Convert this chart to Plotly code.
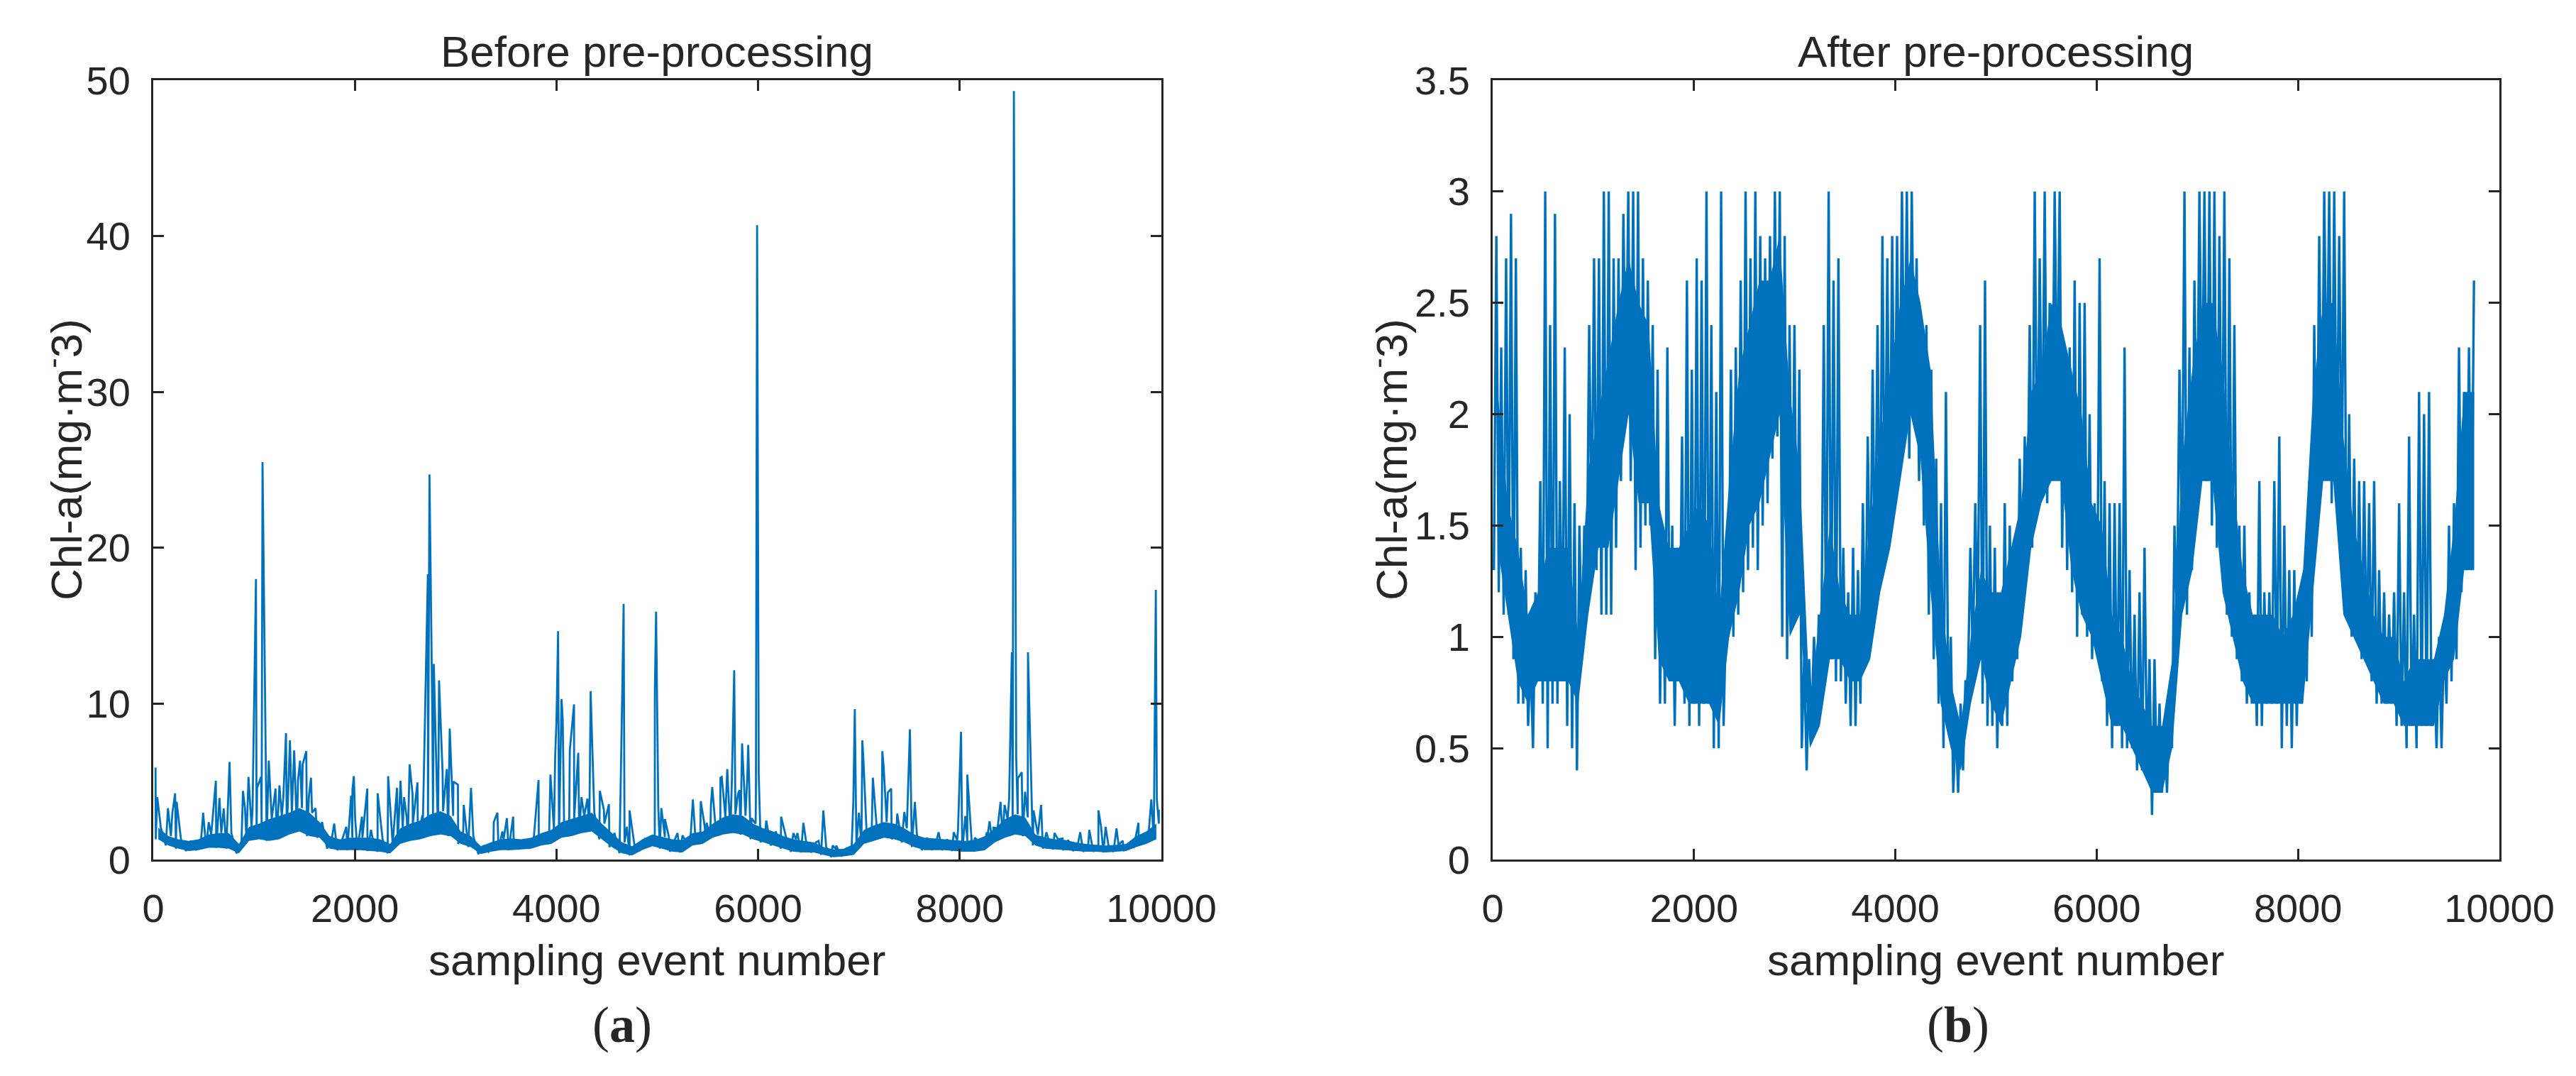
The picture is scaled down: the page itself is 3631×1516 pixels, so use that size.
import numpy as np
import plotly.graph_objects as go

W, H = 3631, 1516
BLUE = "#0072BD"
AX = "#262626"
FONT = "Liberation Sans, Arial, sans-serif"

# ---------------- axis ticks ----------------
x_ticks = [0, 2000, 4000, 6000, 8000, 10000]
x_ticklabels = ["0", "2000", "4000", "6000", "8000", "10000"]
before_yticks = [0, 10, 20, 30, 40, 50]
after_yticks = [0, 0.5, 1, 1.5, 2, 2.5, 3, 3.5]
after_yticklabels = ["0", "0.5", "1", "1.5", "2", "2.5", "3", "3.5"]

# ---------------- (a) before pre-processing ----------------
# baseline band read per 100-sample bin: low / high edge of the dense trace
before_bin = 100
before_lo = [1.3, 0.9, 0.7, 0.55, 0.6, 0.75, 0.75, 0.7, 0.4, 1.2,
             1.3, 1.2, 1.3, 1.6, 1.8, 1.5, 1.4, 0.7, 0.6, 0.6,
             0.6, 0.55, 0.5, 0.4, 1.0, 1.2, 1.3, 1.5, 1.6, 1.5,
             1.0, 0.8, 0.35, 0.5, 0.6, 0.6, 0.65, 0.7, 0.9, 1.0,
             1.4, 1.5, 1.7, 1.8, 1.3, 0.8, 0.4, 0.26, 0.6, 0.85,
             0.7, 0.5, 0.45, 0.9, 1.0, 1.4, 1.6, 1.7, 1.6, 1.3,
             1.1, 0.9, 0.7, 0.5, 0.45, 0.45, 0.3, 0.15, 0.2, 0.3,
             1.0, 1.2, 1.4, 1.3, 1.1, 0.8, 0.6, 0.6, 0.6, 0.55,
             0.5, 0.5, 0.6, 1.1, 1.4, 1.6, 1.5, 0.9, 0.7, 0.65,
             0.6, 0.55, 0.5, 0.5, 0.45, 0.5, 0.55, 0.8, 1.0, 1.3]
before_hi = [2.05, 1.5, 1.3, 1.2, 1.3, 1.6, 1.7, 1.7, 1.0, 2.1,
             2.3, 2.6, 2.8, 3.0, 3.3, 3.0, 2.4, 1.5, 1.3, 1.4,
             1.4, 1.4, 1.3, 1.0, 2.0, 2.3, 2.5, 2.9, 3.1, 2.8,
             1.8, 1.5, 0.85, 1.1, 1.3, 1.35, 1.3, 1.4, 1.7, 1.9,
             2.4, 2.6, 2.8, 3.0, 2.3, 1.7, 1.1, 0.85, 1.3, 1.6,
             1.45, 1.3, 1.25, 1.7, 1.8, 2.3, 2.7, 2.9, 2.8, 2.3,
             2.0, 1.8, 1.5, 1.3, 1.2, 1.1, 0.8, 0.65, 0.7, 1.0,
             1.9, 2.2, 2.4, 2.3, 2.0, 1.6, 1.4, 1.35, 1.3, 1.25,
             1.2, 1.25, 1.5, 2.0, 2.6, 2.9, 2.7, 1.6, 1.4, 1.3,
             1.25, 1.1, 1.0, 0.95, 0.9, 0.95, 1.0, 1.5, 1.8, 2.3]
# isolated spikes (sample number, value)
before_spike_x = [23, 40, 146, 190, 217, 232, 495, 550, 621, 657, 699, 757, 764,
                  890, 910, 945, 985, 1019, 1030, 1070, 1084, 1146, 1213, 1252,
                  1290, 1317, 1356, 1398, 1436, 1456, 1482, 1518, 1545, 1565,
                  1610, 1795, 1915, 1963, 1976, 1990, 2003, 2070, 2123, 2160,
                  2226, 2330, 2418, 2453, 2488, 2515, 2543, 2572, 2621, 2670,
                  2724, 2740, 2768, 2783, 2835, 2870, 2912, 2941, 2977, 3022,
                  3080, 3152, 3378, 3414, 3463, 3508, 3570, 3822, 3940, 3987,
                  4000, 4016, 4050, 4062, 4132, 4174, 4216, 4248, 4307, 4339,
                  4350, 4430, 4470, 4520, 4653, 4666, 4698, 4725, 4976, 4988,
                  5010, 5040, 5075, 5115, 5200, 5250, 5353, 5431, 5464, 5490,
                  5532, 5545, 5626, 5639, 5665, 5694, 5740, 5763, 5800, 5815,
                  5841, 5893, 5902, 5935, 5978, 5990, 6006, 6080, 6228, 6350,
                  6390, 6449, 6600, 6647, 6740, 6775, 6945, 6959, 7000, 7034,
                  7044, 7138, 7232, 7245, 7287, 7320, 7380, 7450, 7506, 7555,
                  7790, 7940, 7983, 8013, 8055, 8075, 8150, 8270, 8296, 8335,
                  8405, 8445, 8490, 8517, 8537, 8560, 8576, 8615, 8648, 8677,
                  8732, 8807, 8860, 8940, 9020, 9195, 9285, 9376, 9402, 9447,
                  9555, 9617, 9773, 9900, 9945, 9955, 9975]
before_spike_y = [5.9, 4.0, 3.3, 3.0, 4.25, 3.7, 3.0, 2.4, 5.05, 3.95, 3.27, 6.26, 4.5,
                  4.4, 3.3, 5.3, 3.2, 18.0, 4.6, 5.3, 25.5, 6.35, 4.55, 4.75,
                  3.95, 8.1, 7.65, 7.0, 5.1, 6.35, 6.1, 6.95, 4.1, 5.25,
                  3.3, 2.3, 2.1, 4.1, 4.5, 5.35, 2.6, 2.75, 4.55, 1.9,
                  4.25, 5.35, 4.6, 5.05, 4.0, 2.65, 6.1, 4.2, 4.95, 2.85,
                  18.3, 24.7, 9.5, 12.55, 11.5, 5.6, 5.8, 8.4, 5.0, 4.8,
                  3.5, 4.6, 2.4, 3.0, 1.8, 2.65, 2.75, 5.1, 5.45, 6.6,
                  8.95, 14.65, 10.3, 8.95, 7.0, 9.95, 6.85, 4.0, 3.9, 10.8,
                  8.3, 4.4, 3.2, 3.55, 11.0, 16.4, 2.1, 3.15, 10.95, 15.9,
                  3.3, 3.3, 2.6, 1.45, 1.7, 1.55, 3.85, 3.75, 2.4, 2.35,
                  3.5, 4.65, 5.25, 5.3, 3.5, 5.8, 5.15, 12.15, 4.2, 4.45,
                  7.45, 5.35, 7.35, 2.65, 3.75, 40.7, 5.45, 2.5, 2.75, 1.7,
                  1.7, 2.35, 1.2, 3.15, 0.9, 0.9, 3.8, 9.65, 3.0, 7.65,
                  6.5, 5.25, 6.95, 6.0, 4.3, 4.55, 2.95, 3.05, 8.35, 3.7,
                  1.75, 1.75, 1.9, 8.2, 2.8, 5.45, 1.4, 1.75, 2.45, 2.05,
                  3.7, 3.5, 3.9, 13.3, 49.3, 6.55, 5.2, 5.6, 4.35, 13.3,
                  3.15, 3.5, 1.75, 1.7, 1.35, 1.75, 1.9, 3.15, 2.1, 2.1,
                  2.0, 1.2, 2.35, 3.85, 17.3, 3.85, 3.2]

# ---------------- (b) after pre-processing ----------------
# low / high extremes of the trace per ~50-sample bin, first segment (samples 0-5000)
after1_span = (0, 5000)
after1_hi = [2.8, 2.3, 2.7, 2.9, 2.7, 1.4, 1.3, 0.9, 1.2, 1.7,
             3.0, 2.4, 2.9, 1.7, 2.3, 2.0, 1.6, 1.5, 1.5, 2.4,
             2.7, 2.7, 3.0, 3.0, 2.7, 2.7, 2.9, 3.0, 3.0, 3.0,
             2.7, 2.6, 2.4, 2.2, 1.5, 2.3, 1.5, 1.4, 1.9, 2.6,
             2.2, 2.7, 2.6, 3.0, 2.4, 2.1, 3.0, 1.1, 2.2, 2.3,
             2.6, 3.0, 2.7, 3.0, 2.8, 2.7, 2.8, 3.0, 3.0, 2.8,
             2.4, 2.4, 2.2, 0.9, 0.9, 1.0, 1.1, 2.4, 3.0, 2.6,
             2.7, 1.4, 1.2, 1.4, 1.3, 1.6, 1.9, 2.2, 2.4, 2.8,
             2.7, 2.8, 2.8, 3.0, 3.0, 3.0, 2.7, 2.4, 2.4, 2.2,
             1.8, 1.6, 2.1, 1.0, 0.6, 0.7, 0.8, 1.4, 1.6, 2.4,
             2.6, 1.5, 1.4]
after1_lo = [1.3, 1.2, 1.1, 1.1, 0.9, 0.7, 0.7, 0.6, 0.5, 0.8,
             0.7, 0.5, 0.7, 0.7, 0.9, 0.6, 0.5, 0.4, 0.9, 1.2,
             1.4, 1.3, 1.1, 1.1, 1.1, 1.4, 1.7, 2.0, 1.7, 1.3,
             1.4, 1.5, 1.5, 0.9, 0.7, 0.7, 0.8, 0.6, 0.8, 0.7,
             0.6, 0.7, 0.6, 0.7, 0.7, 0.5, 0.5, 0.6, 1.0, 1.0,
             1.1, 1.2, 1.3, 1.4, 1.3, 1.5, 1.6, 1.8, 1.9, 1.0,
             0.9, 1.2, 1.1, 0.5, 0.4, 0.6, 0.7, 0.9, 0.9, 0.9,
             0.8, 0.8, 0.7, 0.6, 0.6, 0.7, 0.9, 1.1, 1.2, 1.3,
             1.4, 1.5, 1.7, 1.8, 2.0, 1.8, 2.1, 1.7, 1.5, 1.1,
             0.9, 0.7, 0.5, 0.6, 0.3, 0.3, 0.4, 0.8, 0.9, 1.0,
             0.7, 0.6, 0.6]
# second segment (samples 5000-9760)
after2_span = (5000, 9760)
after2_hi = [1.1, 1.6, 1.5, 1.3, 1.8, 1.9, 2.4, 3.0, 2.7, 3.0,
             2.5, 3.0, 3.0, 2.3, 2.3, 2.6, 2.5, 2.5, 2.0, 1.6,
             2.7, 1.7, 1.6, 1.6, 1.6, 2.3, 1.3, 1.1, 1.2, 1.4,
             0.9, 0.9, 0.7, 0.6, 0.7, 1.5, 2.2, 3.0, 2.3, 2.6,
             3.0, 3.0, 3.0, 3.0, 2.8, 3.0, 2.7, 2.4, 1.5, 1.5,
             1.2, 1.1, 1.7, 1.2, 1.2, 1.7, 1.9, 1.5, 1.3, 1.3,
             1.2, 1.3, 1.7, 2.4, 2.8, 3.0, 3.0, 3.0, 2.8, 3.0,
             2.0, 1.8, 1.7, 1.7, 1.6, 1.7, 1.3, 1.2, 1.1, 1.2,
             1.6, 1.2, 1.9, 1.1, 2.1, 2.0, 2.1, 0.9, 1.0, 1.0,
             1.5, 1.6, 2.3, 2.1, 2.3, 2.6]
after2_lo = [0.5, 0.6, 0.6, 0.8, 0.9, 1.2, 1.4, 1.4, 1.6, 1.7,
             1.6, 1.8, 2.0, 1.4, 1.3, 1.2, 1.0, 1.1, 1.0, 0.9,
             1.0, 0.8, 0.6, 0.5, 0.6, 0.5, 0.5, 0.5, 0.4, 0.4,
             0.4, 0.2, 0.3, 0.3, 0.3, 0.5, 1.1, 1.4, 1.1, 1.3,
             1.7, 1.9, 1.7, 1.5, 1.4, 1.5, 1.1, 1.0, 0.9, 0.8,
             0.7, 0.7, 0.6, 0.6, 0.7, 0.7, 0.7, 0.5, 0.6, 0.5,
             0.6, 0.7, 0.8, 1.0, 1.5, 1.7, 2.0, 1.6, 1.7, 1.6,
             1.1, 1.0, 1.0, 0.9, 0.9, 0.8, 0.7, 0.7, 0.7, 0.7,
             0.6, 0.6, 0.5, 0.6, 0.5, 0.6, 0.6, 0.6, 0.5, 0.5,
             0.7, 0.8, 0.9, 1.2, 1.3, 1.3]
# solid core of the trace, per 100-sample bin (samples 0-9760)
after_core_bin = 100
after_core_lo = [1.4, 1.1, 0.8, 0.7, 0.8, 0.8, 0.8, 0.8, 0.7, 1.1,
                 1.4, 1.4, 1.7, 2.0, 1.6, 1.6, 0.9, 0.8, 0.8, 0.7,
                 0.7, 0.7, 0.6, 1.0, 1.2, 1.5, 1.6, 1.8, 2.0, 1.0,
                 1.1, 0.5, 0.6, 0.9, 0.9, 0.8, 0.8, 0.9, 1.2, 1.4,
                 1.7, 2.0, 1.8, 1.2, 0.7, 0.5, 0.4, 0.7, 0.9, 0.7,
                 0.6, 0.8, 1.0, 1.4, 1.6, 1.7, 1.7, 1.3, 1.1, 1.0,
                 0.8, 0.6, 0.6, 0.5, 0.4, 0.3, 0.3, 0.5, 1.1, 1.3,
                 1.7, 1.7, 1.2, 1.0, 0.8, 0.7, 0.7, 0.7, 0.7, 0.7,
                 0.7, 1.2, 1.7, 1.7, 1.1, 1.0, 0.9, 0.8, 0.7, 0.7,
                 0.6, 0.6, 0.6, 0.6, 0.8, 0.9, 1.3, 1.3]
after_core_hi = [2.1, 1.6, 1.4, 1.1, 1.2, 1.4, 1.4, 1.4, 1.0, 1.75,
                 2.0, 2.25, 2.5, 2.7, 2.5, 2.4, 1.6, 1.4, 1.4, 1.5,
                 1.6, 1.5, 1.1, 1.7, 2.2, 2.4, 2.6, 2.6, 2.8, 2.1,
                 1.75, 0.7, 1.1, 1.5, 1.2, 1.1, 1.1, 1.5, 1.9, 2.2,
                 2.5, 2.7, 2.5, 2.2, 1.2, 0.8, 0.6, 1.0, 1.3, 1.2,
                 1.2, 1.4, 1.6, 2.1, 2.2, 2.5, 2.4, 2.2, 2.0, 1.6,
                 1.5, 1.1, 1.0, 0.8, 0.7, 0.6, 0.6, 0.9, 1.8, 2.2,
                 2.5, 2.5, 2.2, 1.7, 1.3, 1.1, 1.1, 1.1, 1.0, 1.1,
                 1.3, 2.1, 2.5, 2.5, 1.9, 1.5, 1.3, 1.1, 1.0, 1.0,
                 0.8, 0.9, 0.9, 0.9, 1.1, 1.5, 2.1, 2.1]


# ---------------- build traces ----------------
def band_trace(lo, hi, start, stop):
    """Alternate low/high readings of each bin so the line sweeps the band."""
    n = len(lo)
    w = (stop - start) / n
    xs, ys = [], []
    for i in range(n):
        xs += [start + (i + 0.25) * w, start + (i + 0.75) * w]
        ys += [lo[i], hi[i]]
    return xs, ys


bx, by = band_trace(before_lo, before_hi, 0, before_bin * len(before_lo))
pts = list(zip(bx, by)) + list(zip(before_spike_x, before_spike_y))
pts.sort(key=lambda p: p[0])
before_x = [p[0] for p in pts]
before_y = [p[1] for p in pts]
before_centers = [(i + 0.5) * before_bin for i in range(len(before_lo))]

ax1, ay1 = band_trace(after1_lo, after1_hi, *after1_span)
ax2, ay2 = band_trace(after2_lo, after2_hi, *after2_span)
after_x = ax1 + ax2
after_y = ay1 + ay2
core_centers = [min((i + 0.5) * after_core_bin, after2_span[1]) for i in range(len(after_core_lo))]

fig = go.Figure()


def fill_band(xc, lo, hi, xa, ya):
    fig.add_trace(go.Scatter(x=xc, y=hi, mode="lines", line=dict(width=0, color=BLUE),
                             xaxis=xa, yaxis=ya, hoverinfo="skip", showlegend=False))
    fig.add_trace(go.Scatter(x=xc, y=lo, mode="lines", line=dict(width=0, color=BLUE),
                             fill="tonexty", fillcolor=BLUE,
                             xaxis=xa, yaxis=ya, hoverinfo="skip", showlegend=False))


fill_band(before_centers, before_lo, before_hi, "x", "y")
fill_band(core_centers, after_core_lo, after_core_hi, "x2", "y2")
fig.add_trace(go.Scatter(x=before_x, y=before_y, mode="lines",
                         line=dict(width=2.8, color=BLUE), xaxis="x", yaxis="y", showlegend=False))
fig.add_trace(go.Scatter(x=after_x, y=after_y, mode="lines",
                         line=dict(width=3.4, color=BLUE), xaxis="x2", yaxis="y2", showlegend=False))

axis_common = dict(showline=True, linecolor=AX, linewidth=3, mirror="ticks",
                   ticks="inside", ticklen=15, tickwidth=3, tickcolor=AX,
                   showgrid=False, zeroline=False, automargin=False,
                   tickfont=dict(family=FONT, size=56, color=AX))

ydom = [1 - 1211 / H, 1 - 113 / H]
fig.update_layout(
    template="none",
    width=W, height=H, margin=dict(l=0, r=0, t=0, b=0, pad=0),
    paper_bgcolor="white", plot_bgcolor="white", showlegend=False,
    xaxis=dict(domain=[216 / W, 1637 / W], range=[0, 10000], tickvals=x_ticks, ticktext=x_ticklabels,
               anchor="y", ticklabelstandoff=18, **axis_common),
    yaxis=dict(domain=ydom, range=[0, 50], tickvals=before_yticks,
               anchor="x", ticklabelstandoff=18, **axis_common),
    xaxis2=dict(domain=[2104 / W, 3523 / W], range=[0, 10000], tickvals=x_ticks, ticktext=x_ticklabels,
                anchor="y2", ticklabelstandoff=18, **axis_common),
    yaxis2=dict(domain=ydom, range=[0, 3.5], tickvals=after_yticks, ticktext=after_yticklabels,
                anchor="x2", ticklabelstandoff=18, **axis_common),
)


def ann(text, px, py, size, angle=0, family=FONT):
    fig.add_annotation(text=text, x=px / W, y=1 - py / H, xref="paper", yref="paper",
                       xanchor="center", yanchor="middle", showarrow=False, textangle=angle,
                       font=dict(family=family, size=size, color=AX))


ann("Before pre-processing", 926, 72, 62)
ann("After pre-processing", 2813, 72, 62)
ann("sampling event number", 926, 1352, 62)
ann("sampling event number", 2813, 1352, 62)
ann("Chl-a(mg·m<sup>-</sup>3)", 89, 648, 62, angle=-90)
ann("Chl-a(mg·m<sup>-</sup>3)", 1957, 648, 62, angle=-90)
ann("(<b>a</b>)", 877, 1444, 72, family="Liberation Serif, Times New Roman, serif")
ann("(<b>b</b>)", 2760, 1444, 72, family="Liberation Serif, Times New Roman, serif")

fig.write_html("out.html", config={"displayModeBar": False},
               post_script="document.body.style.margin='0';document.body.style.overflow='hidden';")
